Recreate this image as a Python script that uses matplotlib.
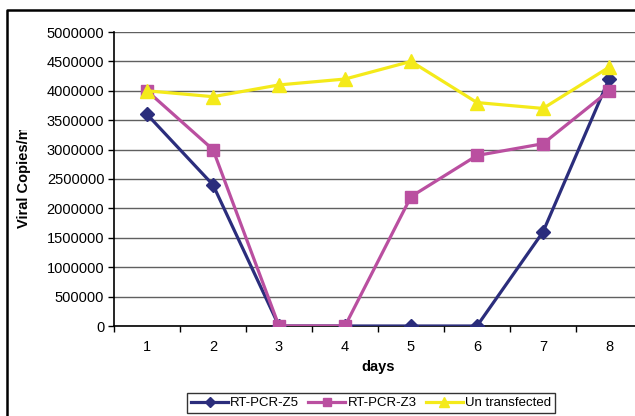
import matplotlib
matplotlib.use("Agg")
import matplotlib.pyplot as plt
from matplotlib.lines import Line2D
from matplotlib.patches import Rectangle

plt.rcParams['font.family'] = ['Liberation Sans', 'DejaVu Sans']

# data
days = [1, 2, 3, 4, 5, 6, 7, 8]
z5 = [3600000, 2400000, 0, 0, 0, 0, 1600000, 4200000]
z3 = [4000000, 3000000, 0, 0, 2200000, 2900000, 3100000, 4000000]
untransfected = [4000000, 3900000, 4100000, 4200000, 4500000, 3800000, 3700000, 4400000]
series_names = ['RT-PCR-Z5', 'RT-PCR-Z3', 'Un transfected']
y_ticks = [0, 500000, 1000000, 1500000, 2000000, 2500000, 3000000,
           3500000, 4000000, 4500000, 5000000]

navy = '#2B2D7C'
magenta = '#BA4FA0'
yellow = '#F4EA1A'

W, H = 635, 416
fig = plt.figure(figsize=(W / 100, H / 100), dpi=100)
ax = fig.add_axes([114 / W, 1 - 326 / H, 528 / W, 294 / H])

ax.plot(days, z5, color=navy, lw=2.3, marker='D', ms=7.5, mec=navy, mfc=navy,
        label=series_names[0], zorder=3)
ax.plot(days, z3, color=magenta, lw=2.3, marker='s', ms=8, mec=magenta, mfc=magenta,
        label=series_names[1], zorder=4)
ax.plot(days, untransfected, color=yellow, lw=2.3, marker='^', ms=9.5, mec=yellow, mfc=yellow,
        label=series_names[2], zorder=5)

ax.set_xlim(0.5, 8.5)
ax.set_ylim(0, 5000000)
ax.set_yticks(y_ticks)
ax.set_yticklabels([str(v) for v in y_ticks])
ax.set_xticks(days)
ax.set_xticks([d + 0.5 for d in days[:-1]] + [0.5], minor=True)
ax.tick_params(axis='x', which='major', length=0, pad=10, labelsize=10.5)
ax.tick_params(axis='x', which='minor', length=4, width=1, color='black', direction='out')
ax.tick_params(axis='y', length=4, width=1, direction='out', pad=3, labelsize=10.5)
ax.grid(axis='y', color='#606060', lw=1)
ax.set_axisbelow(True)
for s in ['top', 'right']:
    ax.spines[s].set_visible(False)
for s in ['left', 'bottom']:
    ax.spines[s].set_linewidth(1.2)
    ax.spines[s].set_color('black')

ax.set_xlabel('days', fontsize=10.5, fontweight='bold')
ax.xaxis.set_label_coords((378 - 114) / 528, -(360 - 326) / 294)
ax.set_ylabel('Viral Copies/ml', fontsize=10.5, fontweight='bold')
ax.yaxis.set_label_coords((31 - 114) / 528, (326 - 175) / 294)

# the original cuts the axis title off near the top
fig.add_artist(Rectangle((14 / W, 1 - 130 / H), 31 / W, 40 / H,
                         transform=fig.transFigure, facecolor='white',
                         edgecolor='none', zorder=10))

leg = fig.legend(loc='center', bbox_to_anchor=(371 / W, 1 - 403 / H), ncol=3,
                 fontsize=9.5, frameon=True, fancybox=False, handlelength=2.8,
                 handletextpad=0.15, columnspacing=0.7, borderpad=0.3,
                 markerscale=0.7)
leg.get_frame().set_edgecolor('black')
leg.get_frame().set_linewidth(1)

# outer chart border (cut off at right and bottom in the original)
fig.add_artist(Line2D([7 / W, 7 / W, 1.0], [0.0, 1 - 10 / H, 1 - 10 / H],
                      transform=fig.transFigure, color='black', lw=1.8))

fig.savefig('out.png', dpi=100)
